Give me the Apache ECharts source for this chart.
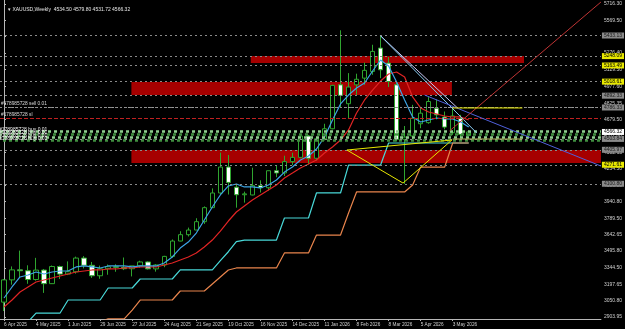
<!DOCTYPE html>
<html><head><meta charset="utf-8">
<script src="https://cdn.jsdelivr.net/npm/echarts@6/dist/echarts.min.js"></script>
<style>html,body{margin:0;padding:0;background:#000;}#c{width:625px;height:329px;}</style>
</head><body><div id="c"></div>
<script>
// ---- data ----
const symbolName = 'XAUUSD,Weekly';
const weekLabels = ['6 Apr 2025','4 May 2025','1 Jun 2025','29 Jun 2025','27 Jul 2025','24 Aug 2025','21 Sep 2025','19 Oct 2025','16 Nov 2025','14 Dec 2025','11 Jan 2026','8 Feb 2026','8 Mar 2026','5 Apr 2026','3 May 2026'];
const opens  = [3037,3237,3327,3319,3240,3325,3203,3357,3289,3310,3433,3368,3274,3337,3355,3350,3337,3363,3398,3336,3371,3448,3586,3643,3685,3760,3886,4018,4251,4070,4002,4000,4084,4065,4218,4198,4300,4338,4530,4330,4505,4595,4990,4820,4990,5050,5110,5320,5185,4990,4500,4530,4640,4650,4780,4700,4560,4690,4534.50];
const highs  = [3245,3358,3500,3368,3435,3335,3366,3365,3403,3446,3451,3398,3365,3375,3377,3438,3363,3409,3404,3379,3453,3600,3674,3707,3791,3897,4059,4381,4359,4100,4030,4245,4132,4219,4264,4353,4380,4550,4540,4520,4640,4990,5480,5095,5090,5190,5350,5430,5240,5010,4620,4810,4790,4880,4860,4750,4780,4720,4579.80];
const lows   = [2957,3194,3260,3202,3230,3120,3200,3245,3280,3293,3340,3255,3247,3283,3310,3325,3268,3346,3330,3311,3351,3436,3584,3627,3684,3740,3884,4002,4004,3886,3931,3997,4022,4040,4160,4170,4270,4330,4274,4310,4490,4590,4790,4690,4900,4990,5080,5050,4970,4480,4100,4500,4600,4640,4680,4590,4540,4520,4531.72];
const closes = [3237,3327,3319,3240,3325,3203,3357,3289,3310,3433,3368,3274,3337,3355,3350,3337,3363,3398,3336,3371,3448,3586,3643,3685,3760,3886,4018,4251,4113,4002,4010,4084,4065,4218,4198,4300,4338,4530,4330,4505,4595,4985,4895,4970,5040,5120,5290,5125,5020,4500,4520,4690,4735,4840,4720,4610,4710,4545,4566.32];
const maFast = [3074,3173,3263,3281,3308,3290,3308,3317,3317,3353,3362,3353,3344,3362,3362,3362,3353,3362,3362,3362,3389,3443,3523,3577,3658,3775,3892,4000,4081,4099,4072,4072,4063,4090,4135,4206,4251,4314,4350,4413,4521,4674,4818,4898,4961,5006,5114,5213,5159,5015,4854,4701,4656,4674,4692,4683,4683,4656,4611];
const maSlow = [2993,3056,3128,3173,3218,3236,3254,3272,3290,3308,3317,3326,3326,3335,3335,3344,3344,3353,3353,3353,3371,3389,3416,3443,3479,3532,3595,3676,3766,3847,3901,3955,4000,4045,4090,4153,4197,4242,4278,4314,4377,4431,4494,4584,4737,4854,4943,5024,5087,5105,5060,4881,4782,4746,4728,4710,4701,4701,4674];
const cyanStep = [null,null,null,2860,2939,2939,2939,2939,3056,3056,3056,3056,3056,3164,3164,3164,3164,3245,3245,3245,3245,3245,3326,3326,3326,3326,3326,3410,3490,3580,3595,3595,3595,3595,3595,3793,3793,3793,3793,4018,4018,4018,4018,4269,4269,4269,4269,4269,4467,4467,4467,4467,4467,4467,4467,4467,4467,4467,4467];
const orangeStep = [null,null,null,null,null,null,null,null,null,null,null,null,2860,2887,2887,2887,2966,3056,3056,3056,3056,3056,3137,3137,3137,3137,3200,3263,3326,3344,3344,3344,3344,3344,3344,3479,3479,3479,3479,3640,3640,3640,3640,3838,4027,4027,4027,4027,4027,4027,4027,4090,4251,4251,4251,4251,4467,4467,4467];
const priceTicks = ['2903.95','3050.80','3197.65','3344.50','3495.80','3642.65','3789.50','3940.80','4086.80','4234.50','4382.65','4531.00','4679.50','4825.35','4977.60','5129.50','5276.40','5423.25','5569.50','5716.30'];
const greyLevels = [5433.13, 4892.33, 4786.33, 4503.84, 4405.97, 4100.80];
const yellowLevels = [5248.09, 5163.49, 5018.61, 4271.61];
const sellLevel = 4786.33, sellText = '#178985728 sell 0.01';
const slLevel = 4692.00, slText = '#178985728 sl';
const buyLevels = [4575, 4548, 4521, 4494], buyText = '#178985728 buy 0.01';
const zoneX1 = [30.8, 15.9, 15.9];
const zoneX2 = [64.9, 55.9, 74.5];
const zoneTop = [5249, 5015, 4404];
const zoneBottom = [5186, 4899, 4288];
const lavenderLine = [[47, 5430], [56.6, 4782]];
const lightBlueLine = [[47, 5430], [59, 4557]];
const blueLine = [[52.5, 4898], [74.5, 4260]];
const redRay = [[55.6, 4575], [74.5, 5734]];
const triangle = [[42.8, 4404], [49.8, 4107], [55.9, 4494], [42.8, 4404]];
const yellowSeg = [[56, 4782], [64.7, 4782]];
const oliveSeg = [[56, 4503], [64.7, 4503]];
const nSlots = 75;

// ---- chart ----
const FONT = 'Liberation Sans';
const last = closes.length - 1;
const cats = Array.from({length: nSlots}, (_, i) => String(i));
const candles = opens.map((o, i) => [o, closes[i], lows[i], highs[i]]);
const tickVals = priceTicks.map(Number);
const Y_MAX = 5752.25, Y_MIN = 2885.40;
const labelEvery = (i) => i % 4 === 0 && i / 4 < weekLabels.length;

function boxLine(v, bg, fg, lineColor, dash) {
  return {
    yAxis: v,
    lineStyle: {color: lineColor, type: dash, width: 1},
    label: {show: true, position: 'end', distance: 1, formatter: v.toFixed(2), color: fg, backgroundColor: bg,
      padding: [1, 2, 0, 2], fontSize: 5, fontFamily: FONT}
  };
}
const levelLines = [];
greyLevels.forEach(v => levelLines.push(boxLine(v, '#8a8a8a', '#1a1a1a', '#8a8a8a', [2, 3])));
yellowLevels.forEach(v => levelLines.push(boxLine(v, '#e8e800', '#000', '#8a8a8a', [2, 3])));
levelLines.push(boxLine(closes[last], '#ffffff', '#000', 'rgba(0,0,0,0)', 'solid'));

const orderLines = [
  {yAxis: sellLevel, lineStyle: {color: '#9a9a9a', type: [2, 2], width: 1},
   label: {show: true, position: 'insideStartTop', formatter: sellText, color: '#d8d8d8', fontSize: 4.8, fontFamily: FONT, distance: 1}},
  {yAxis: slLevel, lineStyle: {color: '#c02020', type: [4, 2], width: 1},
   label: {show: true, position: 'insideStartTop', formatter: slText, color: '#d8d8d8', fontSize: 4.8, fontFamily: FONT, distance: 1}}
];
buyLevels.forEach((v, k) => orderLines.push({
  yAxis: v, lineStyle: {color: k % 2 ? '#3f8f3f' : '#8fcf8f', type: [3, 3], width: 2.5, dashOffset: k},
  label: {show: true, position: 'insideStartTop', formatter: buyText, color: '#f0f0f0', fontSize: 5, fontFamily: FONT, distance: -1}
}));

const zones = zoneX1.map((x1, k) => [{coord: [x1, zoneTop[k]]}, {coord: [zoneX2[k], zoneBottom[k]]}]);

function objLine(pts, color, z) {
  return {type: 'line', xAxisIndex: 1, data: pts, showSymbol: false, symbol: 'none', silent: true, z: z || 6,
    lineStyle: {color: color, width: 1}, clip: true};
}

const option = {
  backgroundColor: '#000',
  animation: false,
  title: {
    text: '\u25BE ' + symbolName + '  ' + [opens[last], highs[last], lows[last], closes[last]].map(v => v.toFixed(2)).join(' '),
    left: 3, top: 2,
    textStyle: {color: '#e8e8e8', fontSize: 5, fontWeight: 'normal', fontFamily: FONT}
  },
  grid: {left: -2, right: 23, top: 0, bottom: 10},
  xAxis: [
    {type: 'category', data: cats, boundaryGap: true,
      axisLine: {show: true, lineStyle: {color: '#b8b8b8'}},
      axisTick: {show: true, interval: labelEvery, length: 2, alignWithLabel: true, lineStyle: {color: '#b8b8b8'}},
      axisLabel: {interval: labelEvery, formatter: (v, i) => weekLabels[Math.round(Number(v) / 4)] || '',
        color: '#d0d0d0', fontSize: 4.7, align: 'left', margin: 3, fontFamily: FONT},
      splitLine: {show: false}},
    {type: 'value', min: -0.5, max: 74.5, show: false}
  ],
  yAxis: {
    type: 'value', position: 'right', min: Y_MIN, max: Y_MAX, scale: true,
    axisLine: {show: true, lineStyle: {color: '#b8b8b8'}},
    axisTick: {show: true, length: 2, customValues: tickVals, lineStyle: {color: '#b8b8b8'}},
    axisLabel: {customValues: tickVals, formatter: v => v.toFixed(2), color: '#d0d0d0', fontSize: 5, margin: 3, fontFamily: FONT},
    splitLine: {show: false}
  },
  series: [
    {type: 'line', xAxisIndex: 1, data: [], silent: true, z: 1,
      markArea: {silent: true, itemStyle: {color: '#a60000'}, data: zones}},
    {type: 'line', xAxisIndex: 1, data: [], silent: true, z: 2,
      markLine: {silent: true, symbol: 'none', animation: false, data: orderLines}},
    {type: 'candlestick', xAxisIndex: 0, data: candles, barWidth: 5, z: 3,
      itemStyle: {color: '#000000', color0: '#ffffff', borderColor: '#2fa52f', borderColor0: '#2fa52f', borderWidth: 1}},
    {type: 'line', xAxisIndex: 0, data: maSlow, showSymbol: false, symbol: 'none', z: 4, lineStyle: {color: '#e02424', width: 1.2}},
    {type: 'line', xAxisIndex: 0, data: maFast, showSymbol: false, symbol: 'none', z: 4, lineStyle: {color: '#3ca4e4', width: 1.2}},
    {type: 'line', xAxisIndex: 0, data: cyanStep, showSymbol: false, symbol: 'none', z: 4, lineStyle: {color: '#48d8d8', width: 1.2}},
    {type: 'line', xAxisIndex: 0, data: orangeStep, showSymbol: false, symbol: 'none', z: 4, lineStyle: {color: '#e8844c', width: 1.2}},
    objLine(lavenderLine, '#c8c8f4'),
    objLine(lightBlueLine, '#8cd0f8'),
    objLine(blueLine, '#5060dc'),
    objLine(redRay, '#c03434'),
    objLine(triangle, '#e8e800'),
    objLine(yellowSeg, '#e8e800'),
    objLine(oliveSeg, '#b8b860'),
    {type: 'line', xAxisIndex: 1, data: [], silent: true, z: 10,
      markLine: {silent: true, symbol: 'none', animation: false, data: levelLines}}
  ]
};
const chart = echarts.init(document.getElementById('c'), null, {renderer: 'canvas'});
chart.setOption(option);
</script></body></html>
